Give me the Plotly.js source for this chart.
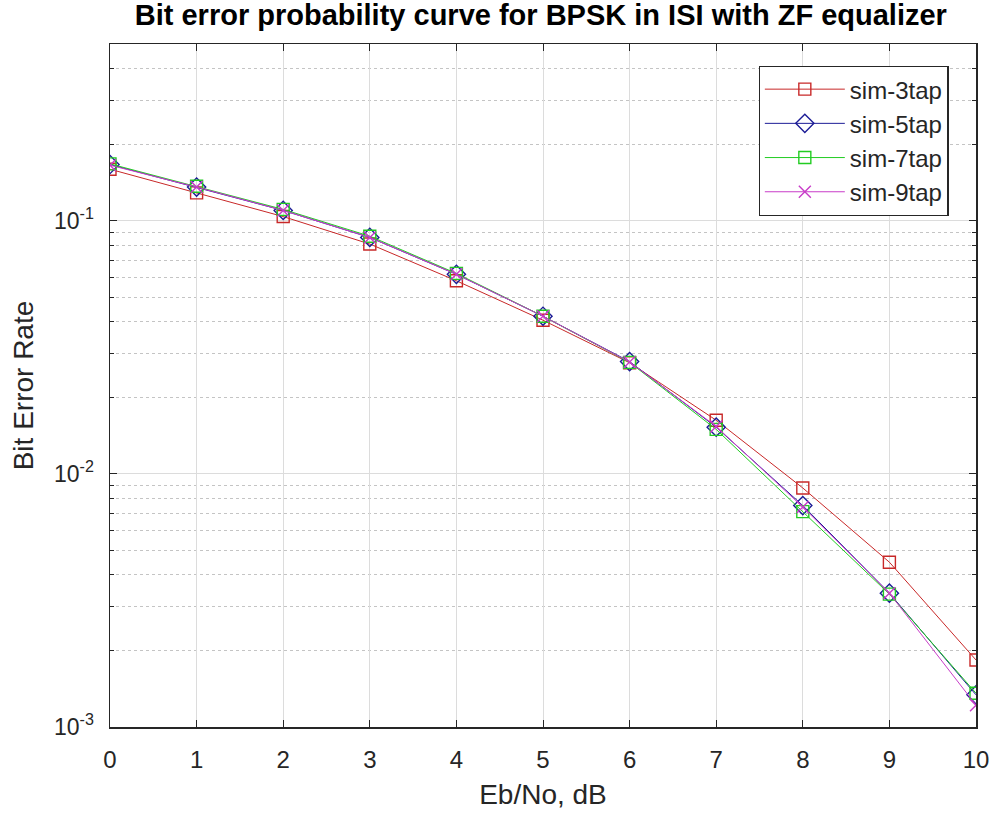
<!DOCTYPE html>
<html>
<head>
<meta charset="utf-8">
<script src="https://cdn.plot.ly/plotly-3.0.1.min.js"></script>
<style>html,body{margin:0;padding:0;background:#fff;}#chart{width:996px;height:813px;}</style>
</head>
<body>
<div id="chart"></div>
<script>
const ebno = [0, 1, 2, 3, 4, 5, 6, 7, 8, 9, 10];
const ber3tap = [0.160, 0.129, 0.104, 0.081, 0.058, 0.0405, 0.0275, 0.0163, 0.0088, 0.00448, 0.00184];
const ber5tap = [0.167, 0.136, 0.110, 0.086, 0.0615, 0.042, 0.0278, 0.0153, 0.0075, 0.00338, 0.00134];
const ber7tap = [0.168, 0.137, 0.111, 0.087, 0.062, 0.042, 0.0276, 0.0150, 0.0071, 0.00335, 0.00136];
const ber9tap = [0.166, 0.136, 0.110, 0.086, 0.0615, 0.042, 0.0277, 0.0154, 0.0074, 0.00338, 0.00122];
const seriesNames = ['sim-3tap', 'sim-5tap', 'sim-7tap', 'sim-9tap'];
const yTickVals = [0.001, 0.01, 0.1];
const yTickText = ['10<sup>-3</sup>', '10<sup>-2</sup>', '10<sup>-1</sup>'];
const xTickVals = [0, 1, 2, 3, 4, 5, 6, 7, 8, 9, 10];

const colors = ['#c82828', '#1c1c96', '#22cc22', '#c83cc8'];
const symbols = ['square-open', 'diamond-open', 'square-open', 'x-thin-open'];
const data = [ber3tap, ber5tap, ber7tap, ber9tap].map((y, i) => ({
  x: ebno, y: y, name: seriesNames[i], type: 'scatter', mode: 'lines+markers',
  line: {color: colors[i], width: 1},
  marker: {symbol: symbols[i], size: i === 1 ? 14 : 12, color: colors[i], line: {color: colors[i], width: 1.4}}
}));

const font = 'Liberation Sans, Arial, sans-serif';
const layout = {
  width: 996, height: 813,
  margin: {l: 110, r: 20, t: 44, b: 86},
  paper_bgcolor: '#fff', plot_bgcolor: '#fff',
  font: {family: font, size: 24, color: '#262626'},
  title: {text: '<b>Bit error probability curve for BPSK in ISI with ZF equalizer</b>', x: 0.543, xanchor: 'center', y: 0.994, yanchor: 'top', font: {family: font, size: 29, color: '#000'}},
  xaxis: {
    range: [0, 10], tickvals: xTickVals, ticks: 'inside', ticklen: 7, tickcolor: '#262626',
    showline: true, linecolor: '#262626', linewidth: 1.5, mirror: 'ticks',
    showgrid: true, gridcolor: '#dcdcdc', gridwidth: 1, zeroline: false,
    tickfont: {size: 24, color: '#262626'}, ticklabelstandoff: 11,
    title: {text: 'Eb/No, dB', font: {size: 28, color: '#262626'}, standoff: 12}
  },
  yaxis: {
    type: 'log', range: [-3, Math.log10(0.5)], tickvals: yTickVals, ticktext: yTickText,
    ticks: 'inside', ticklen: 7, tickcolor: '#262626',
    showline: true, linecolor: '#262626', linewidth: 1.5, mirror: 'ticks',
    showgrid: true, gridcolor: '#dcdcdc', gridwidth: 1, zeroline: false,
    tickfont: {size: 23, color: '#262626'}, ticklabelstandoff: 10,
    minor: {dtick: 'D1', ticks: 'inside', ticklen: 4, tickcolor: '#262626', showgrid: true, gridcolor: '#c4c4c4', griddash: 'dot', gridwidth: 1},
    title: {text: 'Bit Error Rate', font: {size: 28, color: '#262626'}, standoff: 12}
  },
  showlegend: true,
  legend: {x: 0.749, y: 0.968, xanchor: 'left', yanchor: 'top', bgcolor: '#fff', bordercolor: '#262626', borderwidth: 1.2, font: {size: 24, color: '#262626'}, tracegroupgap: 0, itemwidth: 80}
};
Plotly.newPlot('chart', data, layout, {displayModeBar: false, staticPlot: true});
</script>
</body>
</html>
